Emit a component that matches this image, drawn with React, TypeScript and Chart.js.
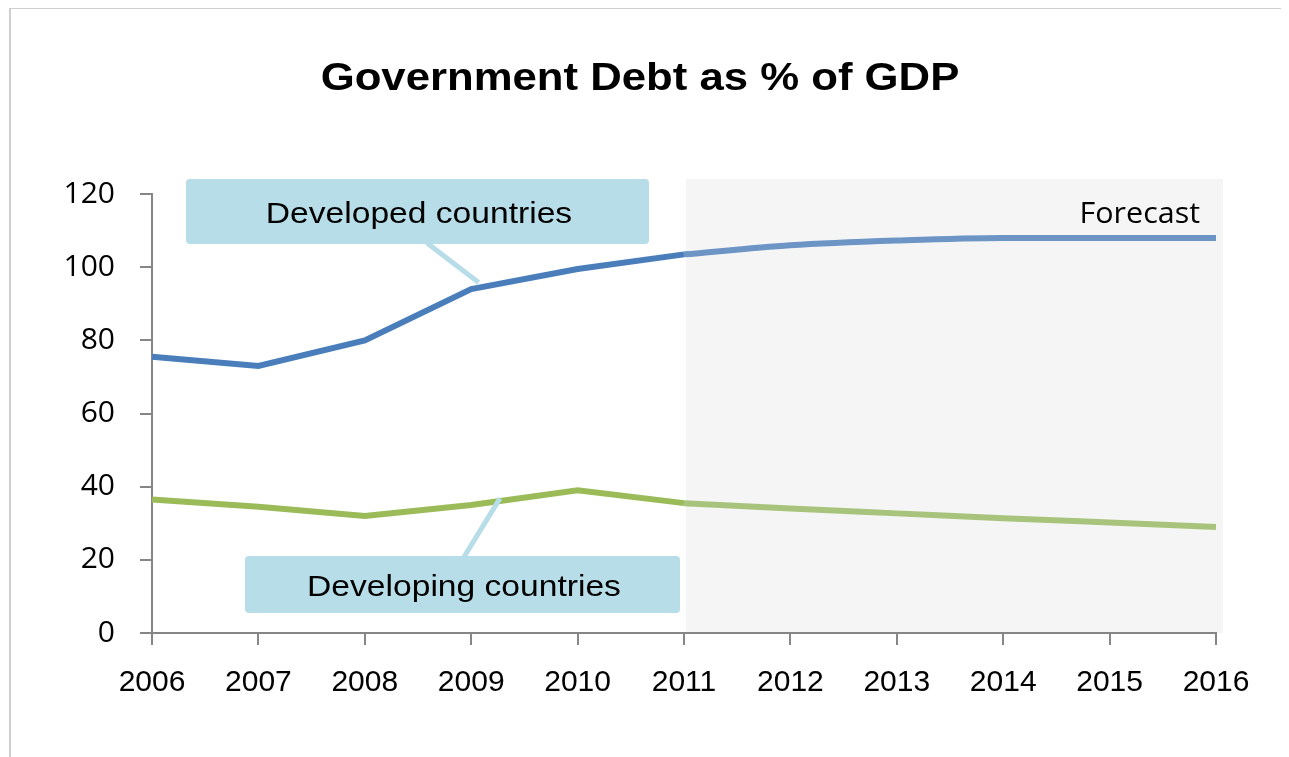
import React, { useEffect, useRef } from "react";
import { Chart, registerables } from "chart.js";

Chart.register(...registerables);

// ---------- data ----------
const years = ["2006", "2007", "2008", "2009", "2010", "2011", "2012", "2013", "2014", "2015", "2016"];
const developedActual = [75.5, 73, 80, 94, 99.5, 103.5, null, null, null, null, null];
const developedForecast = [null, null, null, null, null, 103.5, 106, 107.3, 108, 108, 108];
const developingActual = [36.5, 34.5, 32, 35, 39, 35.5, null, null, null, null, null];
const developingForecast = [null, null, null, null, null, 35.5, 34, 32.7, 31.4, 30.2, 29];
const yMin = 0;
const yMax = 120;
const yStep = 20;
const forecastStart = "2011";
const forecastEnd = "2016";
const titleText = "Government Debt as % of GDP";
const forecastText = "Forecast";
const developedLabel = "Developed countries";
const developingLabel = "Developing countries";

const AXIS = "#868686";
const CALLOUT = "#b7dde8";

function drawStretched(ctx: CanvasRenderingContext2D, text: string, x: number, y: number, font: string, sx: number, align: "left" | "center" | "right") {
  ctx.save();
  ctx.font = font;
  ctx.textBaseline = "alphabetic";
  ctx.textAlign = "left";
  ctx.fillStyle = "#000000";
  const w = ctx.measureText(text).width * sx;
  const left = align === "center" ? x - w / 2 : align === "right" ? x - w : x;
  ctx.translate(left, y);
  ctx.scale(sx, 1);
  ctx.fillText(text, 0, 0);
  ctx.restore();
}

function roundBox(ctx: CanvasRenderingContext2D, x: number, y: number, w: number, h: number, r: number, color: string) {
  ctx.save();
  ctx.fillStyle = color;
  ctx.beginPath();
  ctx.moveTo(x + r, y);
  ctx.lineTo(x + w - r, y);
  ctx.quadraticCurveTo(x + w, y, x + w, y + r);
  ctx.lineTo(x + w, y + h - r);
  ctx.quadraticCurveTo(x + w, y + h, x + w - r, y + h);
  ctx.lineTo(x + r, y + h);
  ctx.quadraticCurveTo(x, y + h, x, y + h - r);
  ctx.lineTo(x, y + r);
  ctx.quadraticCurveTo(x, y, x + r, y);
  ctx.closePath();
  ctx.fill();
  ctx.restore();
}

const shadePlugin = {
  id: "forecastShade",
  beforeDraw(chart: any) {
    const { ctx, scales } = chart;
    const xs = scales.x;
    const ys = scales.y;
    const x0 = xs.getPixelForValue(years.indexOf(forecastStart)) + 2;
    const x1 = xs.getPixelForValue(years.indexOf(forecastEnd)) + 7;
    const y0 = ys.getPixelForValue(yMax) - 15;
    const y1 = ys.getPixelForValue(yMin);
    ctx.save();
    ctx.fillStyle = "#f5f5f5";
    ctx.fillRect(x0, y0, x1 - x0, y1 - y0);
    ctx.restore();
    drawStretched(ctx, forecastText, x1 - 23, ys.getPixelForValue(yMax) + 29, "29px 'Open Sans'", 1.05, "right");
  },
};

const annotationPlugin = {
  id: "callouts",
  afterDatasetsDraw(chart: any) {
    const { ctx, scales } = chart;
    const xs = scales.x;
    const ys = scales.y;
    ctx.save();
    ctx.strokeStyle = CALLOUT;
    ctx.lineWidth = 5;
    // developed connector
    ctx.beginPath();
    ctx.moveTo(416, 234);
    ctx.lineTo(xs.getPixelForValue(3.07), ys.getPixelForValue(95.8));
    ctx.stroke();
    // developing connector
    ctx.beginPath();
    ctx.moveTo(453, 548);
    ctx.lineTo(xs.getPixelForValue(3.27), ys.getPixelForValue(36.8));
    ctx.stroke();
    ctx.restore();

    roundBox(ctx, 175, 170, 463, 65, 4, CALLOUT);
    drawStretched(ctx, developedLabel, 408, 214, "30px 'Liberation Sans', Arial", 1.12, "center");
    roundBox(ctx, 234, 547, 435, 57, 4, CALLOUT);
    drawStretched(ctx, developingLabel, 453, 587, "30px 'Liberation Sans', Arial", 1.12, "center");
  },
  afterDraw(chart: any) {
    drawStretched(chart.ctx, titleText, 629, 81, "bold 38px 'Liberation Sans', Arial", 1.15, "center");
  },
};

export default function App() {
  const ref = useRef<HTMLCanvasElement | null>(null);

  useEffect(() => {
    if (!ref.current) return;
    const chart = new Chart(ref.current, {
      type: "line",
      data: {
        labels: years,
        datasets: [
          { label: "Developed", data: developedActual, borderColor: "#4a7ebb", borderWidth: 6, pointRadius: 0, tension: 0, spanGaps: false },
          { label: "Developed forecast", data: developedForecast, borderColor: "#6c95c6", borderWidth: 6, pointRadius: 0, cubicInterpolationMode: "monotone" },
          { label: "Developing", data: developingActual, borderColor: "#9bbb59", borderWidth: 6, pointRadius: 0, tension: 0 },
          { label: "Developing forecast", data: developingForecast, borderColor: "#a8c47c", borderWidth: 6, pointRadius: 0, cubicInterpolationMode: "monotone" },
        ],
      },
      options: {
        responsive: false,
        animation: false,
        layout: { padding: { top: 185, right: 73, bottom: 0, left: 0 } },
        plugins: { legend: { display: false }, title: { display: false }, tooltip: { enabled: false } },
        scales: {
          x: {
            offset: false,
            grid: { display: true, drawOnChartArea: false, drawTicks: true, tickLength: 12, color: AXIS, lineWidth: 2 },
            border: { display: true, color: AXIS, width: 2 },
            ticks: { color: "#000", font: { family: "'Liberation Sans', Arial", size: 30 }, padding: 20, maxRotation: 0, autoSkip: false },
            afterFit: (s: any) => { s.height = 124; },
          },
          y: {
            min: yMin,
            max: yMax,
            grid: { display: true, drawOnChartArea: false, drawTicks: true, tickLength: 12, color: AXIS, lineWidth: 2 },
            border: { display: true, color: AXIS, width: 2 },
            ticks: { stepSize: yStep, color: "#000", font: { family: "'Open Sans'", size: 30 }, padding: 25 },
            afterFit: (s: any) => { s.width = 141; },
          },
        },
      },
      plugins: [shadePlugin, annotationPlugin],
    });
    return () => chart.destroy();
  }, []);

  return (
    <div
      style={{
        width: 1290,
        height: 750,
        marginTop: -1,
        marginLeft: 1,
        borderLeft: "2px solid #cfcfcf",
        borderTop: "2px solid #cfcfcf",
        background: "#ffffff",
        overflow: "hidden",
        boxSizing: "border-box",
      }}
    >
      <canvas ref={ref} width={1278} height={748} style={{ display: "block" }} />
    </div>
  );
}
